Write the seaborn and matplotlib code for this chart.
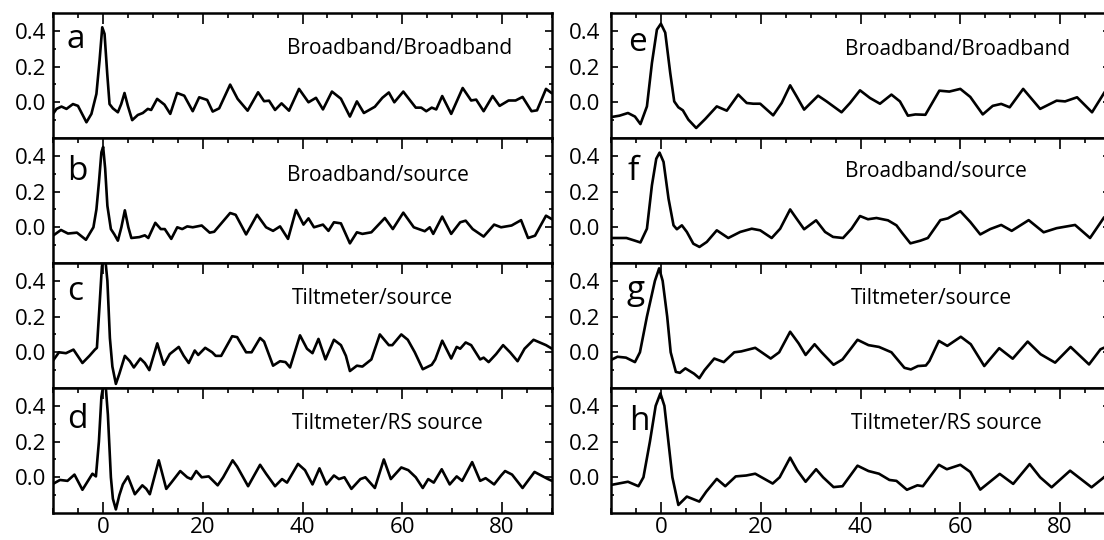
import matplotlib
matplotlib.use("Agg")
import matplotlib.pyplot as plt
import seaborn as sns
import pandas as pd
from matplotlib.ticker import MultipleLocator, FixedLocator

# ---------------- data ----------------
panel_a = [(-10, -0.065), (-9.3, -0.037), (-8.3, -0.024), (-7.3, -0.037), (-6, -0.01), (-5, -0.02),
           (-3.3, -0.112), (-2.3, -0.065), (-1.3, 0.047), (-0.67, 0.234), (-0.13, 0.42), (0.33, 0.383),
           (0.87, 0.159), (1.33, -0.01), (2, -0.034), (3, -0.056), (3.67, -0.01), (4.33, 0.052), (5, -0.02),
           (5.87, -0.1), (7, -0.071), (8, -0.06), (9, -0.037), (9.67, -0.043), (10.87, 0.019), (12.33, -0.013),
           (13.5, -0.065), (14.87, 0.052), (16.3, 0.037), (18, -0.05), (19.3, 0.028), (20.9, 0.013),
           (22, -0.052), (23.3, -0.034), (25.5, 0.099), (27, 0.019), (29, -0.047), (31.1, 0.056),
           (32.3, 0.006), (33.3, 0.009), (34.5, -0.043), (35.8, -0.006), (37.3, -0.047), (39.3, 0.075),
           (41.2, 0.0), (42.7, 0.025), (44.1, -0.04), (45.9, 0.06), (47.7, 0.02), (49.5, -0.08),
           (50.9, 0.005), (52.3, -0.06), (54.5, -0.025), (56, 0.025), (57.3, 0.055), (58.4, 0.0),
           (60.2, 0.06), (62.7, -0.03), (63.8, -0.03), (64.8, -0.05), (65.9, -0.03), (66.8, -0.04),
           (68, 0.035), (69.8, -0.065), (72.1, 0.08), (73.8, 0.01), (74.8, 0.015), (76.3, -0.05),
           (78.1, 0.035), (79.5, -0.02), (81.3, 0.01), (82.7, 0.01), (84.1, 0.03), (85.9, -0.05),
           (87, -0.045), (88.8, 0.075), (90, 0.05)]

panel_b = [(-10, -0.047), (-8.4, -0.015), (-7, -0.035), (-5.2, -0.03), (-3.4, -0.07), (-1.9, 0.0),
           (-1.3, 0.1), (-0.8, 0.25), (-0.3, 0.42), (0.05, 0.45), (0.45, 0.33), (0.9, 0.12), (1.6, -0.01),
           (2.3, -0.04), (3.0, -0.075), (3.7, 0.0), (4.4, 0.095), (5.1, 0.0), (5.7, -0.06), (7.3, -0.055),
           (8.4, -0.045), (9.1, -0.06), (10.5, 0.025), (11.6, -0.01), (12.4, -0.01), (13.7, -0.065),
           (14.9, 0.0), (15.9, -0.01), (16.9, 0.005), (18, 0.0), (19.8, 0.01), (21.4, -0.03),
           (22.3, -0.025), (25.5, 0.08), (26.6, 0.07), (28.7, -0.04), (30.9, 0.07), (32.7, 0.0),
           (34.1, -0.02), (35.5, 0.005), (37.1, -0.065), (38.7, 0.097), (40.2, 0.015), (41.2, 0.05),
           (42.3, 0.0), (44.1, 0.015), (45.2, -0.02), (46.3, 0.028), (47.7, 0.022), (49.5, -0.09),
           (50.9, -0.028), (52, -0.037), (53.8, -0.028), (56.5, 0.052), (58.1, -0.01), (60.2, 0.082),
           (62.3, 0.0), (64.5, -0.022), (65.5, 0.0), (66.2, -0.037), (68, 0.06), (69.8, -0.037),
           (71.6, 0.028), (72.7, 0.037), (74.1, -0.01), (76.3, -0.052), (78.4, 0.015), (79.8, 0.0),
           (81.9, 0.01), (83.8, 0.04), (85.2, -0.06), (86.6, -0.047), (88.8, 0.065), (90, 0.045)]

panel_c = [(-10, -0.047), (-8.8, 0.0), (-7.4, -0.005), (-5.9, 0.015), (-4.1, -0.06), (-2.7, -0.02),
           (-1.6, 0.015), (-1.2, 0.025), (-0.7, 0.25), (-0.2, 0.48), (0.35, 0.56), (0.9, 0.4), (1.4, 0.08),
           (1.9, -0.08), (2.6, -0.177), (3.3, -0.12), (4.4, -0.02), (5.4, -0.05), (6.2, -0.085),
           (7.5, -0.035), (8.4, -0.06), (9.3, -0.1), (10.9, 0.05), (12.2, -0.07), (13.4, -0.01),
           (15.2, 0.03), (16.2, -0.02), (17.2, -0.06), (18.4, 0.01), (19.1, -0.015), (20.5, 0.025),
           (21.9, 0.0), (22.6, -0.02), (23.7, -0.02), (25.9, 0.09), (26.9, 0.085), (28.7, 0.0),
           (29.8, 0.0), (31.5, 0.08), (32.3, 0.06), (34.1, -0.075), (35.5, -0.05), (36.6, -0.055),
           (37.5, -0.085), (39.5, 0.095), (40.9, 0.02), (42, -0.005), (43.2, 0.075), (44.6, -0.04),
           (46.3, 0.07), (47.7, 0.04), (48.7, -0.02), (49.5, -0.105), (50.9, -0.075), (52, -0.08),
           (53.8, -0.04), (55.5, 0.1), (57.3, 0.04), (58, 0.04), (59.8, 0.1), (61.1, 0.07), (62.5, 0.0),
           (64.1, -0.095), (65.9, -0.07), (66.6, -0.04), (68, 0.065), (69.8, -0.035), (70.9, 0.03),
           (71.6, 0.02), (72.7, 0.055), (73.8, 0.04), (75.6, -0.04), (76.3, -0.03), (77.3, -0.055),
           (78.8, -0.01), (80.2, 0.04), (81.6, 0.0), (83.1, -0.05), (84.5, 0.02), (86.3, 0.07),
           (88.8, 0.04), (90, 0.02)]

panel_d = [(-10, -0.037), (-8.6, -0.015), (-7.1, -0.02), (-5.7, 0.015), (-4.1, -0.07), (-2.1, 0.02),
           (-1.4, 0.005), (-0.8, 0.2), (-0.3, 0.45), (0.4, 0.57), (1.0, 0.35), (1.6, 0.0), (2.0, -0.12),
           (2.6, -0.18), (3.3, -0.1), (4.0, -0.04), (5.0, 0.005), (6.4, -0.095), (7.9, -0.045),
           (8.7, -0.065), (9.4, -0.095), (11.2, 0.095), (12.7, -0.065), (13.7, -0.03), (15.5, 0.035),
           (16.9, 0.0), (17.7, -0.01), (18.7, 0.035), (19.8, 0.0), (21.2, 0.005), (23, -0.045),
           (24.1, 0.0), (26, 0.095), (26.9, 0.06), (29.1, -0.05), (31.5, 0.07), (32.7, 0.02),
           (34.5, -0.05), (35.9, -0.01), (36.9, -0.03), (39.1, 0.075), (40.5, 0.04), (42, -0.04),
           (43.4, 0.05), (44.8, -0.04), (46.3, 0.01), (47.3, -0.01), (48.4, 0.0), (49.8, -0.065),
           (51.6, -0.01), (52.6, 0.0), (54.5, -0.06), (56.3, 0.1), (57.7, -0.01), (59.8, 0.055),
           (61.2, 0.04), (62.7, 0.0), (64.1, -0.06), (65.2, -0.01), (66.3, -0.03), (67.9, 0.045),
           (69.5, -0.04), (70.9, 0.005), (72, -0.02), (74, 0.085), (75.6, -0.02), (76.7, -0.005),
           (78.4, -0.04), (79.8, 0.01), (80.6, 0.035), (82, 0.015), (84.1, -0.06), (86.5, 0.03),
           (89.2, -0.01), (90, -0.02)]

panel_e = [(-10, -0.083), (-8.3, -0.075), (-6.6, -0.06), (-5.2, -0.08), (-4.1, -0.122), (-2.8, -0.023),
           (-1.8, 0.22), (-0.8, 0.407), (0, 0.44), (0.87, 0.39), (1.87, 0.164), (2.67, 0.005),
           (3.5, -0.028), (4.4, -0.045), (5.5, -0.097), (7.07, -0.144), (8.87, -0.094), (11.2, -0.023),
           (13.2, -0.047), (15.5, 0.043), (17.2, -0.004), (18.5, -0.008), (19.9, -0.008), (22.5, -0.073),
           (24.2, -0.004), (25.9, 0.095), (27.2, 0.033), (28.7, -0.041), (31.5, 0.037), (33.2, 0.005),
           (36.2, -0.056), (37.9, -0.004), (39.9, 0.067), (41.9, 0.024), (43.9, -0.008), (46.2, 0.043),
           (47.9, 0.005), (49.5, -0.075), (51, -0.068), (53, -0.07), (55.8, 0.065), (57.8, 0.06),
           (60, 0.075), (62, 0.03), (64.5, -0.068), (66.5, -0.02), (68.2, -0.009), (69.9, -0.028),
           (72.6, 0.075), (76, -0.037), (79.3, 0.009), (81, 0.005), (83.4, 0.028), (86.4, -0.056),
           (88.9, 0.056), (90, 0.09)]

panel_f = [(-10, -0.06), (-6.9, -0.06), (-5.2, -0.075), (-4.1, -0.085), (-2.8, -0.008), (-1.8, 0.235),
           (-0.93, 0.384), (-0.27, 0.418), (0.53, 0.366), (1.53, 0.16), (2.53, 0.011), (3.2, -0.011),
           (4.2, 0.011), (5.2, -0.026), (6.5, -0.092), (7.73, -0.11), (9.2, -0.082), (11.2, -0.017),
           (13.5, -0.06), (15.9, -0.026), (18.2, -0.008), (19.9, -0.017), (22.2, -0.06), (23.9, -0.008),
           (25.9, 0.1), (27.2, 0.048), (28.7, -0.011), (31.1, 0.039), (32.9, -0.026), (34.5, -0.054),
           (36.5, -0.06), (38.2, -0.008), (39.9, 0.063), (41.5, 0.045), (43.2, 0.052), (45.5, 0.039),
           (47.2, 0.011), (48.3, -0.03), (50, -0.09), (52, -0.075), (53.5, -0.06), (56, 0.04),
           (57.5, 0.05), (60, 0.09), (62, 0.03), (64, -0.04), (66, -0.01), (68.2, 0.013), (70.3, -0.02),
           (73.7, 0.04), (76.7, -0.028), (79.3, -0.005), (83, 0.013), (86, -0.06), (88.8, 0.055),
           (90, 0.08)]

panel_g = [(-10, -0.043), (-8.7, -0.025), (-7, -0.03), (-5.2, -0.055), (-4.2, 0.0), (-2.8, 0.2),
           (-1.2, 0.4), (-0.35, 0.47), (0.35, 0.4), (1.26, 0.2), (1.96, 0.0), (3.0, -0.11), (3.8, -0.115),
           (4.9, -0.09), (6.65, -0.12), (7.7, -0.145), (8.75, -0.1), (10.7, -0.035), (12.6, -0.055),
           (14.7, 0.0), (16.1, 0.005), (18.9, 0.025), (22, -0.035), (23.7, 0.0), (25.9, 0.115),
           (27.6, 0.05), (29, -0.015), (30.8, 0.045), (32.2, 0.0), (34.6, -0.07), (36.4, -0.04),
           (39.4, 0.07), (41.6, 0.04), (43.7, 0.03), (46.2, 0.0), (48.8, -0.087), (50.1, -0.096),
           (51.5, -0.077), (53.1, -0.074), (53.8, -0.049), (55.7, 0.064), (57.4, 0.036), (60.1, 0.087),
           (62.1, 0.045), (64.8, -0.077), (67.8, 0.023), (70.5, -0.036), (73.5, 0.06), (76.1, -0.011),
           (79, -0.058), (82.1, 0.03), (85.8, -0.068), (88.1, 0.017), (90, 0.04)]

panel_h = [(-10, -0.043), (-6.6, -0.025), (-4.5, -0.05), (-3.5, 0.0), (-2.2, 0.2), (-1.05, 0.4),
           (-0.1, 0.47), (0.7, 0.4), (1.5, 0.2), (2.3, 0.0), (3.5, -0.155), (5.2, -0.108), (7.7, -0.136),
           (9.1, -0.08), (11.2, -0.009), (12.9, -0.05), (15, 0.005), (17.1, 0.01), (18.9, 0.02),
           (22.4, -0.035), (23.8, 0.0), (25.9, 0.11), (27.3, 0.04), (29, -0.025), (31.1, 0.045),
           (32.5, 0.0), (34.6, -0.055), (36.4, -0.05), (39.4, 0.065), (41.6, 0.035), (43.7, 0.02),
           (45.8, -0.015), (47.2, -0.02), (49.3, -0.07), (51.4, -0.045), (52.5, -0.05), (55.7, 0.07),
           (57.3, 0.045), (60, 0.07), (62, 0.03), (64, -0.069), (67.9, 0.019), (70.6, -0.037),
           (73.9, 0.074), (76, 0.0), (78.3, -0.056), (82, 0.037), (86.3, -0.056), (88.8, 0.0), (90, 0.03)]

panel_letters = ["a", "b", "c", "d", "e", "f", "g", "h"]
panel_titles = ["Broadband/Broadband", "Broadband/source", "Tiltmeter/source", "Tiltmeter/RS source",
                "Broadband/Broadband", "Broadband/source", "Tiltmeter/source", "Tiltmeter/RS source"]
x_ticks = [0, 20, 40, 60, 80]
x_tick_labels = ["0", "20", "40", "60", "80"]
y_ticks = [0.0, 0.2, 0.4]
y_tick_labels = ["0.0", "0.2", "0.4"]
y_minor = [-0.1, 0.1, 0.3]

panels = [panel_a, panel_b, panel_c, panel_d, panel_e, panel_f, panel_g, panel_h]

# ---------------- style ----------------
sns.set_theme(style="ticks")
plt.rcParams["font.family"] = ["Open Sans", "DejaVu Sans"]

W, H = 1104, 540
fig = plt.figure(figsize=(W / 100, H / 100), dpi=100)

col_left_px = [53, 611]
col_width_px = 499
row_top_px = [13, 138, 263, 388]
row_h_px = 125

letter_x = [-7.2, -7.2, -7.2, -7.2, -6.6, -6.6, -6.9, -6.4]
letter_y = [0.304, 0.265, 0.293, 0.276, 0.287, 0.265, 0.300, 0.265]
title_x = [36.9, 36.9, 37.9, 37.9, 36.8, 36.8, 38.0, 38.0]
title_y = [0.268, 0.260, 0.270, 0.270, 0.266, 0.283, 0.270, 0.270]

for i, pts in enumerate(panels):
    col, row = divmod(i, 4)
    left = col_left_px[col] / W
    bottom = (H - row_top_px[row] - row_h_px) / H
    ax = fig.add_axes([left, bottom, col_width_px / W, row_h_px / H])
    df = pd.DataFrame(pts, columns=["lag", "corr"])
    sns.lineplot(data=df, x="lag", y="corr", ax=ax, color="black", linewidth=1.9,
                 sort=False, estimator=None, solid_joinstyle="round", solid_capstyle="round")
    ax.set_xlim(-10, 90)
    ax.set_ylim(-0.2, 0.5)
    ax.set_xlabel("")
    ax.set_ylabel("")
    is_bottom = (row == 3)
    ax.set_xticks(x_ticks)
    ax.set_xticklabels(x_tick_labels if is_bottom else [""] * len(x_ticks))
    ax.xaxis.set_minor_locator(MultipleLocator(5))
    ax.set_yticks(y_ticks)
    ax.set_yticklabels(y_tick_labels)
    ax.yaxis.set_minor_locator(FixedLocator(y_minor))
    ax.tick_params(axis="x", which="both", direction="in", top=True, bottom=is_bottom,
                   labelbottom=is_bottom, width=1.2, colors="black", labelsize=16, pad=3)
    ax.tick_params(axis="x", which="major", length=8)
    ax.tick_params(axis="x", which="minor", length=3.5)
    ax.tick_params(axis="y", which="both", direction="in", left=True, right=True,
                   width=1.2, colors="black", labelsize=16, pad=5 if col == 0 else 8)
    ax.tick_params(axis="y", which="major", length=5)
    ax.tick_params(axis="y", which="minor", length=2.5)
    for sp in ax.spines.values():
        sp.set_linewidth(1.8)
        sp.set_color("black")
    ax.text(letter_x[i], letter_y[i], panel_letters[i], fontsize=24, color="black",
            ha="left", va="baseline")
    ax.text(title_x[i], title_y[i], panel_titles[i], fontsize=15, color="black",
            ha="left", va="baseline")

fig.savefig("out.png", dpi=100)
